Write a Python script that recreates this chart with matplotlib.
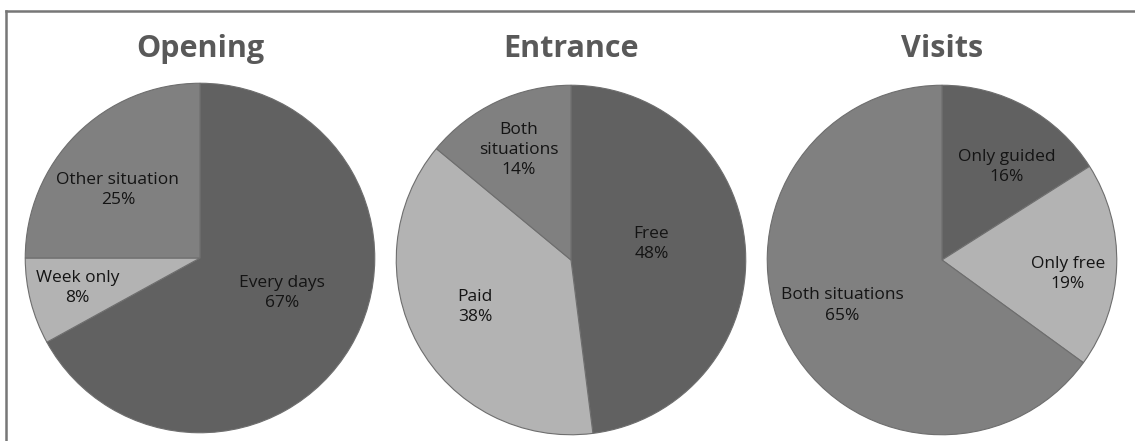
import matplotlib.pyplot as plt
from matplotlib.lines import Line2D

plt.rcParams['font.family'] = ['Open Sans', 'DejaVu Sans']

# data
titles = ['Opening', 'Entrance', 'Visits']
labels = [
    ['Every days', 'Week only', 'Other situation'],
    ['Free', 'Paid', 'Both\nsituations'],
    ['Only guided', 'Only free', 'Both situations'],
]
values = [
    [67, 8, 25],
    [48, 38, 14],
    [16, 19, 65],
]

DARK = '#616161'
LIGHT = '#b3b3b3'
MID = '#808080'
colors = [
    [DARK, LIGHT, MID],
    [DARK, LIGHT, MID],
    [DARK, LIGHT, MID],
]

# label placement inside each pie (in units of radius)
label_pos = [
    [(0.47, -0.20), (-0.70, -0.17), (-0.47, 0.39)],
    [(0.46, 0.09), (-0.55, -0.27), (-0.30, 0.63)],
    [(0.37, 0.53), (0.72, -0.08), (-0.57, -0.26)],
]

W, H = 1135, 441
fig = plt.figure(figsize=(W / 100, H / 100), dpi=100)

centers = [(200, 258), (571, 260), (942, 260)]
size = 360

for i, (cx, cy) in enumerate(centers):
    ax = fig.add_axes([(cx - size / 2) / W, 1 - (cy + size / 2) / H, size / W, size / H])
    ax.pie(values[i], colors=colors[i], startangle=90, counterclock=False,
           wedgeprops=dict(edgecolor='#6e6e6e', linewidth=0.8))
    ax.set_xlim(-1.03, 1.03)
    ax.set_ylim(-1.03, 1.03)
    ax.set_aspect('equal')
    ax.axis('off')
    for lab, v, (px, py) in zip(labels[i], values[i], label_pos[i]):
        ax.text(px, py, f"{lab}\n{v}%", ha='center', va='center',
                fontsize=12.5, color='#141414', linespacing=1.35)
    fig.text(cx / W, 1 - 49 / H, titles[i], ha='center', va='center',
             fontsize=22, fontweight='bold', color='#595959')

# outer frame (only top and left visible)
fig.add_artist(Line2D([6 / W, 1], [1 - 10.5 / H, 1 - 10.5 / H], color='#777777', lw=1.8,
                      transform=fig.transFigure))
fig.add_artist(Line2D([6 / W, 6 / W], [0, 1 - 10.5 / H], color='#777777', lw=1.8,
                      transform=fig.transFigure))

fig.savefig('out.png', dpi=100)
